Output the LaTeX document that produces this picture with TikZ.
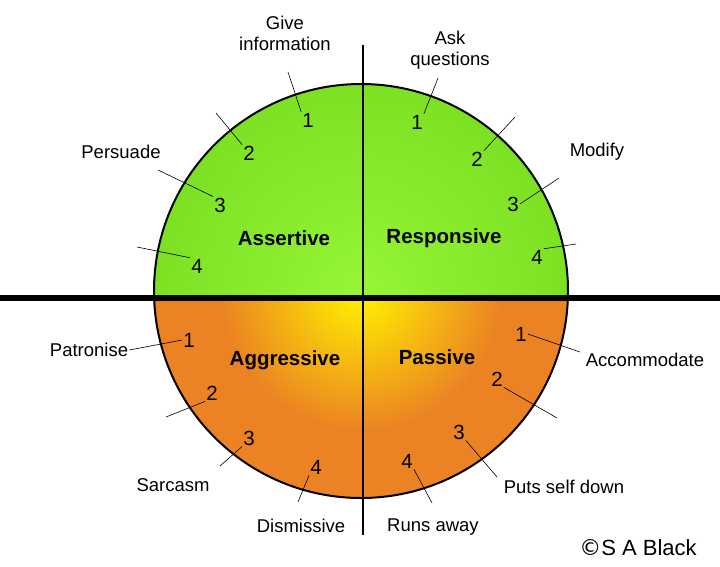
\documentclass[tikz,border=0pt]{standalone}
\usepackage{fontspec}
\setmainfont{Liberation Sans}
\definecolor{gin}{RGB}{150,245,55}
\definecolor{gout}{RGB}{125,225,35}
\definecolor{oin}{RGB}{255,240,0}
\definecolor{oout}{RGB}{235,130,35}
\pgfdeclareradialshading{orashade}{\pgfpoint{0bp}{0bp}}{color(0bp)=(oin); color(3bp)=(oin!85!oout); color(17bp)=(oout); color(50bp)=(oout)}
\begin{document}
\begin{tikzpicture}[x=1pt,y=-1pt,
  lab/.style={font=\fontsize{18.5}{21}\selectfont, align=center, inner sep=1pt},
  num/.style={font=\fontsize{20.5}{22}\selectfont, inner sep=1pt},
  big/.style={font=\bfseries\fontsize{20.5}{22}\selectfont},
  tick/.style={draw=black, line width=0.6pt}]
\useasboundingbox (0,0) rectangle (720,566);
\begin{scope}
\clip (0,0) rectangle (720,298);
\shade[inner color=gin, outer color=gout] (361,291) circle (207);
\end{scope}
\begin{scope}
\clip (0,298) rectangle (720,566);
\shade[shading=orashade] (361,291) circle (207);
\end{scope}
\draw[line width=2pt] (361,291) circle (207);
\draw[line width=2pt] (363,45) -- (363,535);
\draw[line width=6.5pt] (0,298) -- (720,298);

% upper left
\node[lab] (gi) at (285,33) {Give\\information};
\node[num] (a1) at (308,120) {1};
\coordinate (a1e) at (288,72); \draw[tick] (a1e) -- (a1.north west);
\node[num] (a2) at (249,153) {2};
\coordinate (a2e) at (216,113); \draw[tick] (a2e) -- (a2.north west);
\node[lab] (pe) at (121,152) {Persuade};
\node[num] (a3) at (220,205) {3};
\coordinate (a3e) at (158,170); \draw[tick] (a3e) -- (a3.north west);
\node[num] (a4) at (197,266) {4};
\coordinate (a4e) at (137,247); \draw[tick] (a4e) -- (a4.north west);
\node[big] (as) at (284,238) {Assertive};

% upper right
\node[lab] (aq) at (450,50) {Ask\\questions};
\node[num] (b1) at (417,122) {1};
\coordinate (b1e) at (438,78); \draw[tick] (b1e) -- (b1.north east);
\node[num] (b2) at (477,159) {2};
\coordinate (b2e) at (515,117); \draw[tick] (b2e) -- (b2.north east);
\node[lab] (mo) at (597,152) {Modify};
\node[num] (b3) at (513,204) {3};
\coordinate (b3e) at (559,178); \draw[tick] (b3e) -- (b3.east);
\node[num] (b4) at (537,257) {4};
\coordinate (b4e) at (576,244); \draw[tick] (b4e) -- (b4.north east);
\node[big] (re) at (444,238) {Responsive};

% lower left
\node[lab] (pa) at (89,350) {Patronise};
\node[num] (c1) at (189,340) {1};
\draw[tick] (pa.east) -- (c1.west);
\node[num] (c2) at (212,393) {2};
\coordinate (c2e) at (166,417); \draw[tick] (c2e) -- (c2.south west);
\node[num] (c3) at (249,438) {3};
\node[lab] (sa) at (173,485) {Sarcasm};
\coordinate (c3e) at (220,466); \draw[tick] (c3e) -- (c3.south west);
\node[num] (c4) at (316,467) {4};
\coordinate (c4e) at (298,502); \draw[tick] (c4e) -- (c4.south west);
\node[lab] (di) at (301,526) {Dismissive};
\node[big] (ag) at (285,360) {Aggressive};

% lower right
\node[num] (d1) at (521,334) {1};
\node[lab] (ac) at (645,360) {Accommodate};
\coordinate (d1e) at (580,352); \draw[tick] (d1.east) -- (d1e);
\node[num] (d2) at (497,379) {2};
\coordinate (d2e) at (557,418); \draw[tick] (d2.south east) -- (d2e);
\node[num] (d3) at (459,432) {3};
\node[lab] (ps) at (564,487) {Puts self down};
\coordinate (d3e) at (497,477); \draw[tick] (d3.south east) -- (d3e);
\node[num] (d4) at (407,461) {4};
\coordinate (d4e) at (432,503); \draw[tick] (d4.south east) -- (d4e);
\node[lab] (ra) at (433,527) {Runs away};
\node[big] (pv) at (437,357) {Passive};

\node[font=\fontsize{22}{24}\selectfont] (cp) at (638,548) {\fontspec{DejaVu Sans}©\fontspec{Liberation Sans}S A Black};
\end{tikzpicture}
\end{document}
